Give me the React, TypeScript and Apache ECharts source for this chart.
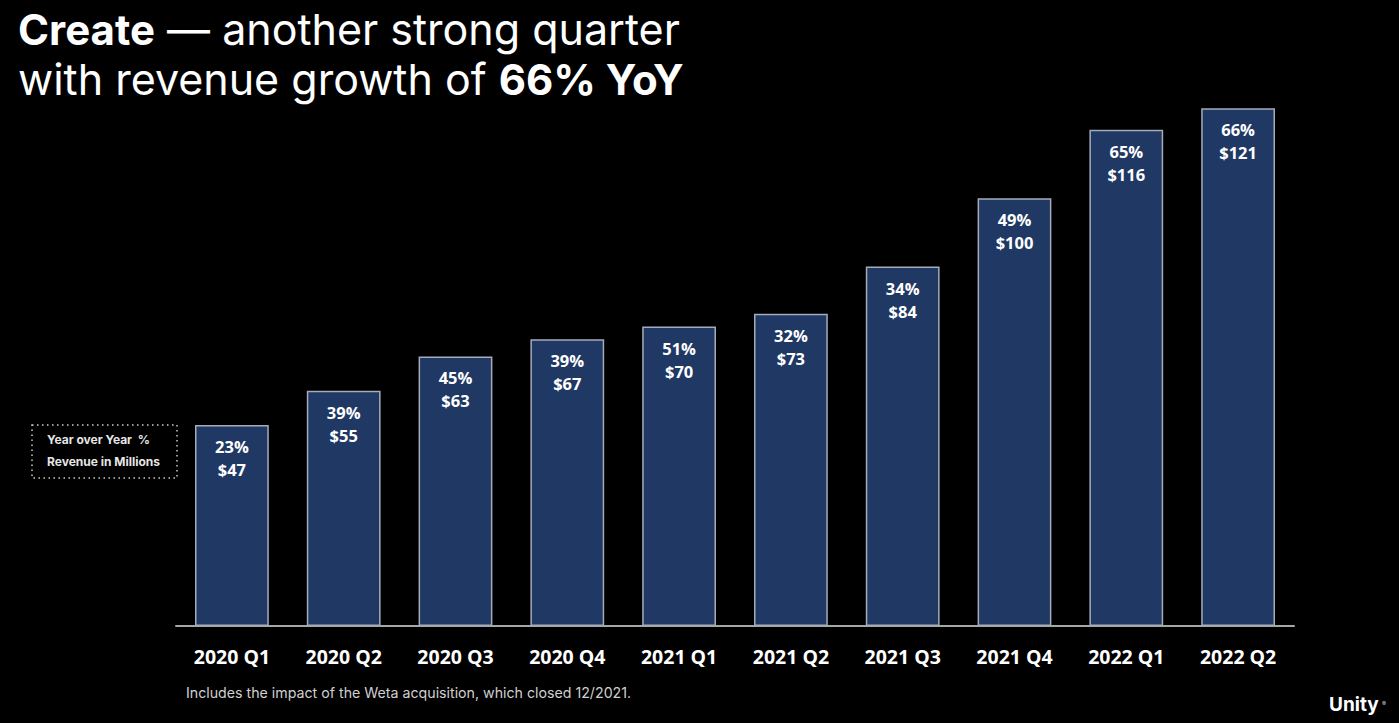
import React, { useEffect, useRef } from "react";
import * as echarts from "echarts";

const quarters = ["2020 Q1", "2020 Q2", "2020 Q3", "2020 Q4", "2021 Q1", "2021 Q2", "2021 Q3", "2021 Q4", "2022 Q1", "2022 Q2"];
const revenue = [47, 55, 63, 67, 70, 73, 84, 100, 116, 121];
const yoy = [23, 39, 45, 39, 51, 32, 34, 49, 65, 66];

export default function App() {
  const ref = useRef<HTMLDivElement>(null);
  useEffect(() => {
    if (!ref.current) return;
    const chart = echarts.init(ref.current, null, { renderer: "svg" });
    chart.setOption({
      animation: false,
      backgroundColor: "#000000",
      grid: { left: 176, right: 105, top: 27, bottom: 97 },
      xAxis: {
        type: "category",
        data: quarters,
        axisLine: { lineStyle: { color: "#a6a6a6", width: 2 } },
        axisTick: { show: false },
        axisLabel: {
          color: "#ffffff",
          fontFamily: "Open Sans",
          fontWeight: "bold",
          fontSize: 19.5,
          margin: 20,
        },
      },
      yAxis: { type: "value", min: 0, max: 140, show: false, splitLine: { show: false } },
      series: [
        {
          type: "bar",
          barWidth: "66%",
          data: revenue,
          itemStyle: { color: "#203864", borderColor: "#a5acb8", borderWidth: 1.5 },
          label: {
            show: true,
            position: "insideTop",
            distance: 10,
            color: "#ffffff",
            fontFamily: "Open Sans",
            fontWeight: "bold",
            fontSize: 16.5,
            lineHeight: 23,
            formatter: (p: any) => `${yoy[p.dataIndex]}%\n$${revenue[p.dataIndex]}`,
          },
        },
      ],
      graphic: [
        {
          type: "text",
          left: 18,
          top: 4,
          style: {
            text: "{b|Create}{r| — another strong quarter}\n{r|with revenue growth of }{b|66% YoY}",
            fill: "#ffffff",
            font: "43px Inter",
            lineHeight: 50,
            rich: {
              b: { fontFamily: "Inter", fontSize: 42, fontWeight: "bold", fill: "#ffffff", lineHeight: 50 },
              r: { fontFamily: "Inter", fontSize: 43, fill: "#ffffff", lineHeight: 50 },
            },
          },
        },
        {
          type: "rect",
          shape: { x: 32, y: 425, width: 145, height: 53 },
          style: { fill: "none", stroke: "#cccccc", lineWidth: 1.5, lineDash: [1.5, 3.5] },
        },
        {
          type: "text",
          x: 47,
          y: 433,
          style: { text: "Year over Year  %", fill: "#e6e6e6", font: "bold 12px Inter" },
        },
        {
          type: "text",
          x: 47,
          y: 455,
          style: { text: "Revenue in Millions", fill: "#e6e6e6", font: "bold 12px Inter" },
        },
        {
          type: "text",
          x: 186,
          y: 685,
          style: {
            text: "Includes the impact of the Weta acquisition, which closed 12/2021.",
            fill: "#d0d0d0",
            font: "14.2px Inter",
          },
        },
        {
          type: "text",
          x: 1329,
          y: 695,
          style: { text: "Unity", fill: "#ffffff", font: "bold 19px Inter" },
        },
        {
          type: "text",
          x: 1382,
          y: 700,
          style: { text: "®", fill: "#cccccc", font: "6px Inter" },
        },
      ],
    });
    return () => chart.dispose();
  }, []);
  return (
    <div
      ref={ref}
      style={{ position: "fixed", left: 0, top: 0, width: 1399, height: 723, background: "#000" }}
    />
  );
}
